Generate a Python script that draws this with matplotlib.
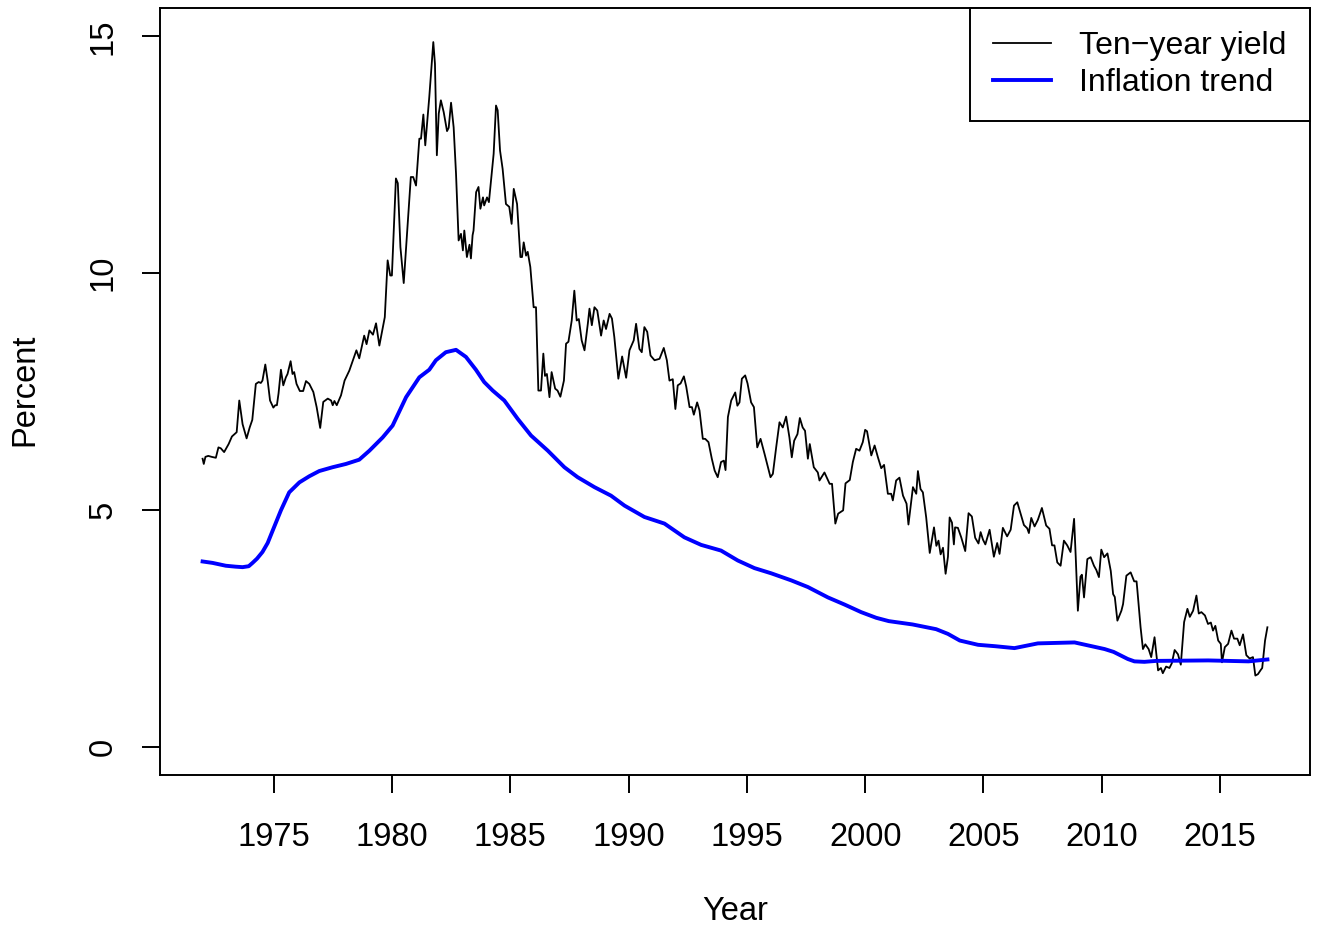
import matplotlib
matplotlib.use("Agg")
import matplotlib.pyplot as plt

plt.rcParams['font.family'] = ['Liberation Sans', 'DejaVu Sans']

# ten-year yield (year, percent)
yield_year = [
    1972.00, 1972.05, 1972.12, 1972.24, 1972.38, 1972.56, 1972.67, 1972.77, 1972.91, 1973.10,
    1973.24, 1973.44, 1973.55, 1973.69, 1973.86, 1973.99, 1974.10, 1974.25, 1974.37, 1974.46,
    1974.53, 1974.65, 1974.75, 1974.85, 1974.99, 1975.07, 1975.14, 1975.21, 1975.31, 1975.41,
    1975.52, 1975.59, 1975.72, 1975.80, 1975.87, 1975.97, 1976.11, 1976.25, 1976.37, 1976.51,
    1976.68, 1976.82, 1976.97, 1977.10, 1977.29, 1977.43, 1977.50, 1977.57, 1977.67, 1977.85,
    1978.00, 1978.20, 1978.50, 1978.62, 1978.83, 1978.93, 1979.05, 1979.20, 1979.33, 1979.47,
    1979.70, 1979.82, 1979.93, 1980.00, 1980.17, 1980.25, 1980.36, 1980.50, 1980.67, 1980.80,
    1980.90, 1981.02, 1981.16, 1981.23, 1981.33, 1981.41, 1981.51, 1981.58, 1981.75, 1981.82,
    1981.90, 1981.98, 1982.07, 1982.19, 1982.33, 1982.40, 1982.50, 1982.61, 1982.71, 1982.82,
    1982.92, 1983.00, 1983.06, 1983.17, 1983.28, 1983.34, 1983.41, 1983.45, 1983.56, 1983.66,
    1983.74, 1983.85, 1983.90, 1984.02, 1984.10, 1984.19, 1984.30, 1984.40, 1984.47, 1984.57,
    1984.68, 1984.82, 1984.96, 1985.06, 1985.15, 1985.29, 1985.43, 1985.50, 1985.57, 1985.67,
    1985.74, 1985.85, 1985.99, 1986.09, 1986.19, 1986.30, 1986.40, 1986.47, 1986.55, 1986.66,
    1986.75, 1986.90, 1987.00, 1987.12, 1987.27, 1987.36, 1987.46, 1987.60, 1987.71, 1987.81,
    1987.90, 1988.02, 1988.14, 1988.28, 1988.35, 1988.45, 1988.56, 1988.68, 1988.84, 1988.95,
    1989.05, 1989.20, 1989.30, 1989.40, 1989.57, 1989.73, 1989.90, 1990.04, 1990.22, 1990.32,
    1990.46, 1990.56, 1990.67, 1990.79, 1990.93, 1991.10, 1991.31, 1991.49, 1991.62, 1991.73,
    1991.87, 1991.98, 1992.08, 1992.20, 1992.34, 1992.44, 1992.58, 1992.68, 1992.76, 1992.90,
    1993.00, 1993.14, 1993.24, 1993.38, 1993.52, 1993.64, 1993.77, 1993.91, 1994.03, 1994.10,
    1994.20, 1994.34, 1994.51, 1994.60, 1994.69, 1994.79, 1994.93, 1995.03, 1995.18, 1995.30,
    1995.44, 1995.58, 1995.75, 1996.00, 1996.10, 1996.24, 1996.38, 1996.52, 1996.66, 1996.80,
    1996.90, 1997.00, 1997.14, 1997.24, 1997.36, 1997.46, 1997.58, 1997.66, 1997.83, 1998.00,
    1998.07, 1998.28, 1998.50, 1998.60, 1998.74, 1998.86, 1999.07, 1999.17, 1999.35, 1999.48,
    1999.62, 1999.76, 1999.90, 2000.00, 2000.08, 2000.26, 2000.40, 2000.54, 2000.68, 2000.80,
    2000.96, 2001.10, 2001.17, 2001.31, 2001.45, 2001.60, 2001.75, 2001.83, 2002.02, 2002.16,
    2002.23, 2002.34, 2002.44, 2002.58, 2002.73, 2002.91, 2003.01, 2003.10, 2003.19, 2003.29,
    2003.40, 2003.50, 2003.57, 2003.67, 2003.75, 2003.80, 2003.92, 2004.06, 2004.23, 2004.37,
    2004.51, 2004.65, 2004.79, 2004.88, 2004.98, 2005.08, 2005.26, 2005.44, 2005.58, 2005.68,
    2005.82, 2006.00, 2006.15, 2006.29, 2006.43, 2006.57, 2006.71, 2006.85, 2006.92, 2007.02,
    2007.16, 2007.30, 2007.47, 2007.65, 2007.79, 2007.90, 2008.00, 2008.12, 2008.26, 2008.40,
    2008.54, 2008.68, 2008.83, 2008.90, 2008.99, 2009.10, 2009.16, 2009.25, 2009.39, 2009.53,
    2009.67, 2009.77, 2009.88, 2009.98, 2010.10, 2010.24, 2010.38, 2010.48, 2010.55, 2010.66,
    2010.83, 2010.90, 2011.04, 2011.22, 2011.37, 2011.47, 2011.50, 2011.64, 2011.74, 2011.84,
    2011.98, 2012.09, 2012.23, 2012.38, 2012.50, 2012.58, 2012.72, 2012.86, 2012.96, 2013.08,
    2013.22, 2013.34, 2013.48, 2013.62, 2013.72, 2013.86, 2014.00, 2014.10, 2014.21, 2014.36,
    2014.49, 2014.61, 2014.70, 2014.80, 2014.92, 2015.03, 2015.08, 2015.20, 2015.34, 2015.48,
    2015.59, 2015.73, 2015.83, 2015.97, 2016.11, 2016.25, 2016.39, 2016.49, 2016.60, 2016.72,
    2016.78, 2016.90, 2017.00,
]
yield_pct = [
    6.08, 5.97, 6.12, 6.14, 6.12, 6.10, 6.32, 6.30, 6.22, 6.39,
    6.55, 6.64, 7.31, 6.81, 6.51, 6.74, 6.90, 7.66, 7.70, 7.68,
    7.73, 8.07, 7.73, 7.31, 7.16, 7.21, 7.21, 7.46, 7.96, 7.63,
    7.80, 7.87, 8.14, 7.87, 7.91, 7.66, 7.51, 7.51, 7.72, 7.66,
    7.49, 7.17, 6.73, 7.28, 7.35, 7.31, 7.21, 7.30, 7.21, 7.42,
    7.73, 7.94, 8.37, 8.20, 8.68, 8.50, 8.79, 8.70, 8.94, 8.47,
    9.07, 10.27, 9.95, 9.95, 12.00, 11.90, 10.55, 9.79, 11.05, 12.03,
    12.03, 11.85, 12.84, 12.84, 13.35, 12.70, 13.30, 13.72, 14.88, 14.42,
    12.49, 13.37, 13.65, 13.40, 13.00, 13.07, 13.60, 13.08, 12.10, 10.69,
    10.83, 10.48, 10.90, 10.34, 10.60, 10.31, 10.80, 10.90, 11.71, 11.82,
    11.36, 11.60, 11.43, 11.60, 11.50, 11.96, 12.52, 13.54, 13.44, 12.59,
    12.20, 11.46, 11.40, 11.04, 11.78, 11.46, 10.34, 10.34, 10.65, 10.37,
    10.45, 10.13, 9.28, 9.28, 7.52, 7.52, 8.30, 7.83, 7.87, 7.38,
    7.91, 7.56, 7.52, 7.39, 7.73, 8.51, 8.55, 9.00, 9.63, 9.00,
    9.03, 8.58, 8.37, 8.93, 9.25, 8.90, 9.28, 9.21, 8.68, 9.00,
    8.82, 9.14, 9.04, 8.65, 7.77, 8.24, 7.79, 8.37, 8.58, 8.93,
    8.40, 8.33, 8.86, 8.76, 8.26, 8.16, 8.19, 8.42, 8.16, 7.73,
    7.76, 7.13, 7.63, 7.67, 7.82, 7.60, 7.17, 7.17, 7.01, 7.27,
    7.10, 6.50, 6.50, 6.43, 6.08, 5.83, 5.69, 6.01, 6.04, 5.84,
    6.96, 7.31, 7.48, 7.20, 7.27, 7.77, 7.84, 7.67, 7.27, 7.17,
    6.32, 6.50, 6.18, 5.69, 5.76, 6.32, 6.85, 6.74, 6.97, 6.53,
    6.11, 6.46, 6.60, 6.94, 6.74, 6.67, 6.08, 6.39, 5.90, 5.79,
    5.62, 5.79, 5.55, 5.55, 4.71, 4.92, 4.99, 5.56, 5.63, 6.01,
    6.29, 6.25, 6.43, 6.69, 6.66, 6.15, 6.36, 6.11, 5.88, 5.95,
    5.34, 5.34, 5.20, 5.62, 5.68, 5.30, 5.13, 4.69, 5.48, 5.34,
    5.82, 5.44, 5.37, 4.84, 4.09, 4.63, 4.24, 4.35, 4.06, 4.20,
    3.65, 4.01, 4.84, 4.73, 4.27, 4.63, 4.62, 4.42, 4.13, 4.93,
    4.86, 4.41, 4.29, 4.53, 4.37, 4.27, 4.58, 4.01, 4.30, 4.07,
    4.62, 4.44, 4.58, 5.09, 5.16, 4.92, 4.68, 4.61, 4.51, 4.83,
    4.65, 4.79, 5.04, 4.67, 4.60, 4.25, 4.25, 3.89, 3.82, 4.35,
    4.25, 4.11, 4.81, 4.00, 2.87, 3.59, 3.63, 3.15, 3.96, 4.00,
    3.82, 3.73, 3.58, 4.16, 4.00, 4.08, 3.71, 3.22, 3.16, 2.66,
    2.87, 3.01, 3.61, 3.68, 3.49, 3.49, 3.33, 2.52, 2.06, 2.16,
    2.06, 1.89, 2.31, 1.61, 1.66, 1.55, 1.69, 1.66, 1.76, 2.04,
    1.95, 1.73, 2.63, 2.91, 2.74, 2.87, 3.19, 2.81, 2.84, 2.77,
    2.59, 2.62, 2.45, 2.55, 2.24, 2.17, 1.78, 2.10, 2.17, 2.45,
    2.28, 2.28, 2.14, 2.37, 1.93, 1.86, 1.89, 1.50, 1.53, 1.62,
    1.66, 2.24, 2.52,
]

# inflation trend (smooth curve)
trend_year = [
    1972.00, 1972.42, 1972.98, 1973.40, 1973.69, 1973.95, 1974.11, 1974.30, 1974.53, 1974.75,
    1974.96, 1975.31, 1975.66, 1976.09, 1976.51, 1976.93, 1977.49, 1978.06, 1978.62, 1979.05,
    1979.61, 1980.03, 1980.60, 1981.16, 1981.58, 1981.86, 1982.28, 1982.71, 1983.13, 1983.55,
    1983.90, 1984.26, 1984.75, 1985.32, 1985.88, 1986.59, 1987.29, 1987.85, 1988.56, 1989.26,
    1989.83, 1990.67, 1991.52, 1992.36, 1993.07, 1993.91, 1994.62, 1995.32, 1996.03, 1996.88,
    1997.58, 1998.43, 1999.13, 1999.83, 2000.47, 2001.00, 2002.00, 2003.00, 2003.50, 2004.00,
    2004.77, 2005.50, 2006.31, 2007.30, 2008.85, 2010.12, 2010.50, 2010.82, 2011.10, 2011.38,
    2011.80, 2012.30, 2014.50, 2016.20, 2017.00,
]
trend_pct = [
    3.91, 3.88, 3.82, 3.80, 3.79, 3.81, 3.88, 3.97, 4.11, 4.30,
    4.56, 4.99, 5.37, 5.58, 5.71, 5.82, 5.90, 5.97, 6.06, 6.25,
    6.53, 6.78, 7.38, 7.80, 7.96, 8.16, 8.33, 8.38, 8.23, 7.96,
    7.70, 7.52, 7.31, 6.92, 6.57, 6.25, 5.90, 5.69, 5.48, 5.30,
    5.09, 4.85, 4.71, 4.42, 4.26, 4.14, 3.93, 3.77, 3.66, 3.51,
    3.37, 3.15, 3.00, 2.84, 2.72, 2.65, 2.58, 2.48, 2.38, 2.24,
    2.15, 2.12, 2.08, 2.18, 2.20, 2.06, 2.00, 1.92, 1.85, 1.80,
    1.79, 1.81, 1.82, 1.80, 1.84,
]

x_ticks = [1975, 1980, 1985, 1990, 1995, 2000, 2005, 2010, 2015]
y_ticks = [0, 5, 10, 15]

fig = plt.figure(figsize=(13.18, 9.30), dpi=100)
ax = fig.add_axes([160 / 1318, 1 - 775 / 930, 1150 / 1318, 767 / 930])

ax.plot(yield_year, yield_pct, color='black', lw=1.3, label='Ten\u2212year yield')
ax.plot(trend_year, trend_pct, color='blue', lw=2.8, label='Inflation trend')

ax.set_xlim(1970.2, 2018.8)
ax.set_ylim(-0.6, 15.6)
ax.set_xticks(x_ticks)
ax.set_yticks(y_ticks)
ax.set_xticklabels([str(t) for t in x_ticks])
ax.set_yticklabels([str(t) for t in y_ticks], rotation=90, va='center')
ax.tick_params(axis='both', direction='out', length=13, width=1.4, labelsize=23.5, color='black')
ax.tick_params(axis='x', pad=21)
ax.tick_params(axis='y', pad=17)
for sp in ax.spines.values():
    sp.set_linewidth(1.4)

fig.text(735 / 1318, 1 - 911 / 930, 'Year', ha='center', va='center', fontsize=23.5)
fig.text(25 / 1318, 1 - 390 / 930, 'Percent', ha='center', va='center', rotation=90, fontsize=23.5)

leg = ax.legend(loc='upper right', fontsize=23, borderaxespad=0, fancybox=False,
                edgecolor='black', framealpha=1, handlelength=1.8, handletextpad=0.9,
                borderpad=0.73, labelspacing=0.21)
leg.get_frame().set_linewidth(1.4)

fig.savefig('out.png', dpi=100)
